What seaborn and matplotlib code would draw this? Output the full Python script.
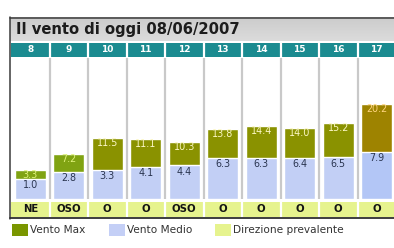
import numpy as np
import matplotlib
matplotlib.use("Agg")
import matplotlib.pyplot as plt
from matplotlib.patches import Rectangle
import seaborn as sns

# ---- data ----
hours = ["8", "9", "10", "11", "12", "13", "14", "15", "16", "17"]
vento_max = [3.3, 7.2, 11.5, 11.1, 10.3, 13.8, 14.4, 14.0, 15.2, 20.2]
vento_medio = [1.0, 2.8, 3.3, 4.1, 4.4, 6.3, 6.3, 6.4, 6.5, 7.9]
direzione = ["NE", "OSO", "O", "O", "OSO", "O", "O", "O", "O", "O"]
title = "Il vento di oggi 08/06/2007"
legend_labels = ["Vento Max", "Vento Medio", "Direzione prevalente"]

sns.set_theme(style="white")
plt.rcParams["font.family"] = ["DejaVu Sans"]

W, H = 394, 248
fig = plt.figure(figsize=(W / 100, H / 100), dpi=100)
fig.patch.set_facecolor("white")


def ax_px(x0, ytop, w, h, **kw):
    return fig.add_axes([x0 / W, 1 - (ytop + h) / H, w / W, h / H], **kw)


def max_color(v):
    if v < 10:
        return "#80a312"
    if v < 20:
        return "#8a9200"
    return "#9e8300"


def max_text_color(v):
    if v < 10:
        return "#dff27a"
    if v < 20:
        return "#fbf7c4"
    return "#ffd47e"


def med_color(v):
    return "#b3c6f6" if v >= 7 else "#c2cff5"


ncol = len(hours)
colw = 38.5
x_left = 11

# ---- header row ----
axh = ax_px(x_left, 43, colw * ncol, 14)
axh.set_facecolor("#1b8b90")
axh.set_xlim(-0.5, ncol - 0.5)
axh.set_ylim(0, 1)
for k in range(1, ncol):
    axh.axvline(k - 0.5, color="white", lw=1.6)
for i, h in enumerate(hours):
    axh.text(i, 0.5, h, ha="center", va="center", color="white",
             fontsize=6.5, fontweight="bold")
axh.set_xticks([]); axh.set_yticks([])
for s in axh.spines.values():
    s.set_visible(False)

# ---- main bar axes ----
c = 16.5 / 3.9
e = 0.5


def fwd(v):
    v = np.asarray(v, dtype=float)
    return np.where(v < e, v * (e + c) / e, v + c)


def inv(y):
    y = np.asarray(y, dtype=float)
    return np.where(y < e + c, y * e / (e + c), y - c)


ax = ax_px(x_left, 58, colw * ncol, 141)
ax.set_facecolor("white")
ax.set_yscale("function", functions=(fwd, inv))

sns.barplot(x=hours, y=vento_max, hue=hours,
            palette=[max_color(v) for v in vento_max],
            width=0.81, saturation=1, legend=False, ax=ax, zorder=2)
sns.barplot(x=hours, y=vento_medio, hue=hours,
            palette=[med_color(v) for v in vento_medio],
            width=0.81, saturation=1, legend=False, ax=ax, zorder=3)

ax.set_xlim(-0.5, ncol - 0.5)
ax.set_ylim(0, 141 / 3.9 - c)
for k in range(1, ncol):
    ax.axvline(k - 0.5, color="#c9c9c9", lw=1.6, zorder=1)

for i, v in enumerate(vento_max):
    ax.annotate(f"{v:.1f}", (i, v), xytext=(0, -5), textcoords="offset pixels",
                ha="center", va="center", fontsize=6.9, color=max_text_color(v),
                zorder=5)
for i, v in enumerate(vento_medio):
    ax.annotate(f"{v:.1f}", (i, v), xytext=(0, -6.5), textcoords="offset pixels",
                ha="center", va="center", fontsize=6.9, color="#2a3550",
                zorder=5)

ax.set_xlabel(""); ax.set_ylabel("")
ax.set_xticks([]); ax.set_yticks([])
ax.minorticks_off()
for s in ax.spines.values():
    s.set_visible(False)

# ---- direction row ----
axd = ax_px(x_left, 202, colw * ncol, 15)
axd.set_facecolor("#e6f38e")
axd.set_xlim(-0.5, ncol - 0.5)
axd.set_ylim(0, 1)
for k in range(1, ncol):
    axd.axvline(k - 0.5, color="white", lw=1.6)
for i, d in enumerate(direzione):
    axd.text(i, 0.5, d, ha="center", va="center", color="#141414",
             fontsize=7.3, fontweight="bold")
axd.set_xticks([]); axd.set_yticks([])
for s in axd.spines.values():
    s.set_visible(False)

# ---- overlay (title bar, borders, legend) in pixel coords ----
ov = fig.add_axes([0, 0, 1, 1], zorder=10)
ov.axis("off")
grad = np.linspace(0, 1, 24)
top_c = np.array([0.80, 0.80, 0.80])
bot_c = np.array([0.86, 0.86, 0.86])
img = (top_c[None, :] * (1 - grad[:, None]) + bot_c[None, :] * grad[:, None])[:, None, :]
ov.imshow(img, extent=(10, W, 41, 17), aspect="auto", zorder=1)
ov.set_xlim(0, W)
ov.set_ylim(H, 0)
ov.plot([10, W], [17.5, 17.5], color="#3c3c3c", lw=1.1, zorder=3)
ov.plot([10.5, 10.5], [17, 218.5], color="#3a3a3a", lw=1.1, zorder=3)
ov.plot([10, W], [218, 218], color="#2e2e2e", lw=1.3, zorder=3)
ov.text(16, 29.5, title, ha="left", va="center", fontsize=10.6,
        fontweight="bold", color="#1c1c1c", zorder=4)

leg_colors = ["#7a9600", "#c4cff6", "#e6f38e"]
leg_x = [12, 109, 215]
for lx, col, lab in zip(leg_x, leg_colors, legend_labels):
    ov.add_patch(Rectangle((lx, 224), 16, 11.5, facecolor=col, edgecolor="none",
                           zorder=4))
    ov.text(lx + 18.5, 230, lab, ha="left", va="center", fontsize=7.6,
            color="#333333", zorder=4)

fig.savefig("out.png", dpi=100, facecolor="white")
